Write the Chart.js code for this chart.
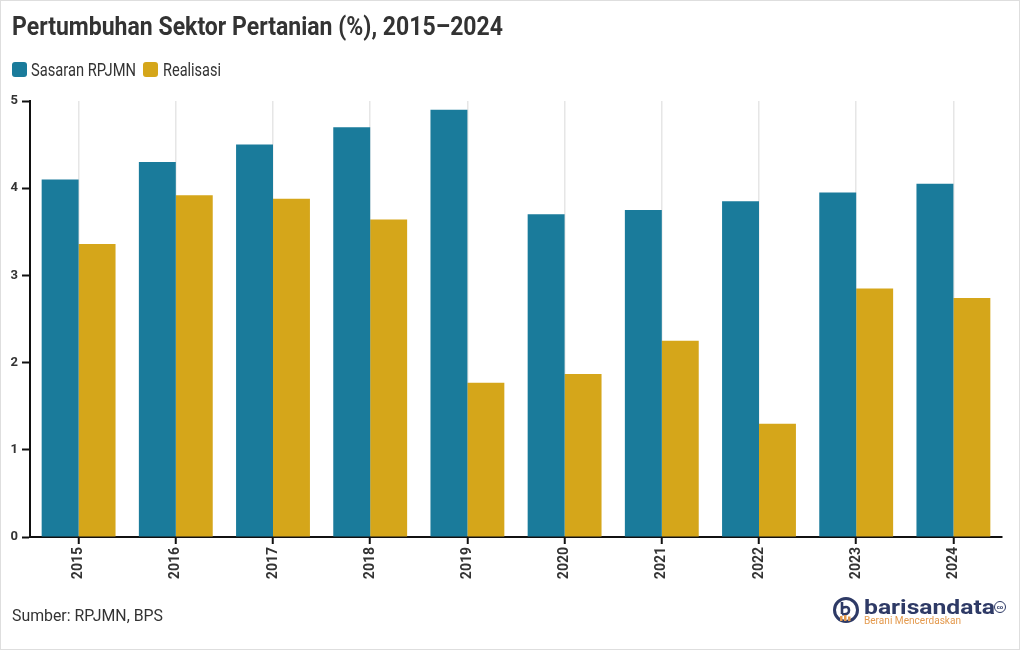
<!DOCTYPE html>
<html><head><meta charset="utf-8">
<script src="https://cdn.jsdelivr.net/npm/chart.js@4/dist/chart.umd.min.js"></script>
<style>
html,body{margin:0;padding:0;background:#fff;}
#wrap{position:relative;width:1020px;height:650px;overflow:hidden;font-family:Roboto,"Liberation Sans",sans-serif;}
#frame{position:absolute;left:0;top:0;width:1020px;height:650px;box-sizing:border-box;border:1px solid #dedede;pointer-events:none;}
#chartBox{position:absolute;left:0;top:0;width:1020px;height:650px;}
.fit{position:absolute;white-space:nowrap;transform-origin:0 0;line-height:1;}
#title{left:12px;top:14px;font-weight:700;font-size:25px;color:#333;}
.sw{position:absolute;width:15px;height:15px;border-radius:3px;top:62px;}
.lg{top:61px;font-size:18px;color:#333;}
#source{left:12px;top:607px;font-size:17px;color:#333;}
#brand{left:864px;top:597px;font-size:21px;font-weight:700;color:#2e3a66;}
#tag{left:864px;top:616px;font-size:10px;color:#e49a4e;}
#co{position:absolute;left:994px;top:601px;width:10px;height:10px;border:1.5px solid #2e3a66;border-radius:50%;font:700 6px Roboto;color:#2e3a66;text-align:center;line-height:10px;}
</style></head>
<body>
<div id="wrap">
  <div id="chartBox"><canvas id="c"></canvas></div>
  <div id="title" class="fit" data-w="491">Pertumbuhan Sektor Pertanian (%), 2015–2024</div>
  <div id="legend"></div>
  <div id="source" class="fit" data-w="151">Sumber: RPJMN, BPS</div>
  <svg style="position:absolute;left:832px;top:597px" width="30" height="28" viewBox="0 0 30 28">
    <circle cx="14" cy="13" r="11.5" fill="none" stroke="#2e3a66" stroke-width="3"/>
    <path d="M10 5 L10 17 M10 11 Q17 8 17 13.5 Q17 18 10 17" fill="none" stroke="#2e3a66" stroke-width="2.6"/>
    <rect x="8" y="19" width="2.5" height="5" fill="#e49a4e"/>
    <rect x="12" y="18" width="2.5" height="6" fill="#e49a4e"/>
    <rect x="16" y="19.5" width="2.5" height="4.5" fill="#e49a4e"/>
  </svg>
  <div id="brand" class="fit" data-w="131">barisandata</div>
  <div id="co">co</div>
  <div id="tag" class="fit" data-w="97">Berani Mencerdaskan</div>
  <div id="frame"></div>
</div>
<script>
const categories = ['2015','2016','2017','2018','2019','2020','2021','2022','2023','2024'];
const seriesNames = ['Sasaran RPJMN','Realisasi'];
const sasaran = [4.1, 4.3, 4.5, 4.7, 4.9, 3.7, 3.75, 3.85, 3.95, 4.05];
const realisasi = [3.36, 3.92, 3.88, 3.64, 1.77, 1.87, 2.25, 1.30, 2.85, 2.74];
const yTicks = [0, 1, 2, 3, 4, 5];
const colors = ['#1a7b9b', '#d5a61a'];

// legend (HTML)
const legendPos = [{sw:12, tx:31, w:105}, {sw:143, tx:163, w:58}];
const lg = document.getElementById('legend');
seriesNames.forEach((n, i) => {
  const s = document.createElement('div');
  s.className = 'sw'; s.style.left = legendPos[i].sw + 'px'; s.style.background = colors[i];
  lg.appendChild(s);
  const t = document.createElement('div');
  t.className = 'fit lg'; t.style.left = legendPos[i].tx + 'px'; t.dataset.w = legendPos[i].w;
  t.textContent = n;
  lg.appendChild(t);
});

function fitAll(){
  document.querySelectorAll('.fit').forEach(el => {
    const target = parseFloat(el.dataset.w);
    const w = el.getBoundingClientRect().width;
    if (target && w) el.style.transform = 'scaleX(' + (target / w) + ')';
  });
}
fitAll();
if (document.fonts && document.fonts.ready) document.fonts.ready.then(() => { document.querySelectorAll('.fit').forEach(e=>e.style.transform=''); fitAll(); });

const tickFontY = {family: 'Roboto', weight: 'bold', size: 13};
const tickFontX = {family: 'Roboto', weight: 'bold', size: 14};

new Chart(document.getElementById('c'), {
  type: 'bar',
  data: {
    labels: categories,
    datasets: [
      {label: seriesNames[0], data: sasaran, backgroundColor: colors[0], borderWidth: 0},
      {label: seriesNames[1], data: realisasi, backgroundColor: colors[1], borderWidth: 0}
    ]
  },
  options: {
    responsive: true,
    maintainAspectRatio: false,
    animation: false,
    datasets: {bar: {categoryPercentage: 0.76, barPercentage: 1.0}},
    layout: {padding: {left: 0, right: 18, top: 101, bottom: 0}},
    plugins: {legend: {display: false}, title: {display: false}, tooltip: {enabled: false}},
    scales: {
      x: {
        grid: {offset: false, color: '#e6e6e6', lineWidth: 1.5, tickColor: '#111', tickLength: 7, tickWidth: 2, z: -1},
        border: {color: '#111', width: 2},
        ticks: {minRotation: 90, maxRotation: 90, color: '#333', font: tickFontX, padding: 3},
        afterFit(s){ s.height = 650 - 537; }
      },
      y: {
        min: 0, max: 5,
        afterBuildTicks(s){ s.ticks = yTicks.map(v => ({value: v})); },
        grid: {drawOnChartArea: false, tickColor: '#111', tickLength: 8, tickWidth: 2},
        border: {color: '#111', width: 2},
        ticks: {color: '#333', font: tickFontY, padding: 4},
        afterFit(s){ s.width = 30; }
      }
    }
  }
});
</script>
</body></html>
